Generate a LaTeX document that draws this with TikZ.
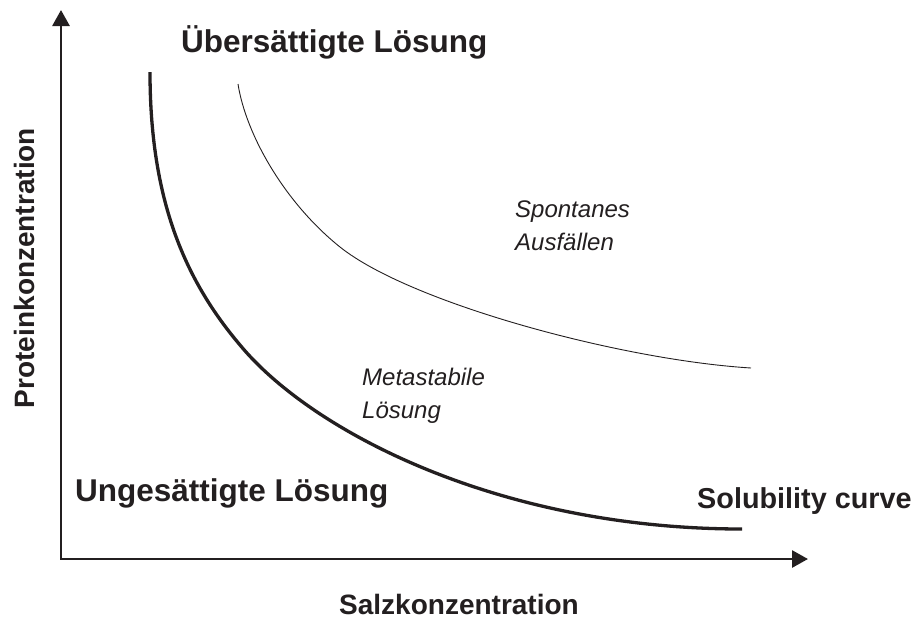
\documentclass[tikz,border=0pt]{standalone}
\usepackage{fontspec}
\setmainfont{Liberation Sans}
\usetikzlibrary{arrows.meta}
\definecolor{ink}{HTML}{231F20}
\tikzset{
  axis/.style={line width=2.8pt, draw=ink, {Triangle[length=16pt,width=17pt]}-{Triangle[length=16pt,width=17pt]}},
  solcurve/.style={line width=3.3pt, draw=ink},
  spontcurve/.style={line width=0.9pt, draw=ink},
  biglabel/.style={inner sep=0pt, text=ink, font=\bfseries\fontsize{31.5}{36}\selectfont},
  axislabel/.style={inner sep=0pt, text=ink, font=\bfseries\fontsize{28}{34}\selectfont},
  regionlabel/.style={inner sep=0pt, text=ink, align=left, font=\itshape\fontsize{24}{33}\selectfont}
}
\begin{document}
\begin{tikzpicture}[x=1pt,y=-1pt]
\useasboundingbox (0,0) rectangle (918,619);
\coordinate (ytop) at (61,10);
\coordinate (origin) at (61,559);
\coordinate (xend) at (808,559);
\draw[axis] (ytop) -- (origin) -- (xend);
% solubility curve
\coordinate (s0) at (150,72);
\coordinate (sk) at (240,345);
\coordinate (s1) at (742,529);
\draw[solcurve] (s0) .. controls (150,200) and (185,280) .. (sk)
                     .. controls (312,432) and (500,529) .. (s1);
% spontaneous precipitation boundary
\coordinate (p0) at (238,84);
\coordinate (pk) at (340,247);
\coordinate (p1) at (751,368);
\draw[spontcurve] (p0) .. controls (246,135) and (285,203) .. (pk)
                       .. controls (410,303) and (621,360) .. (p1);
\node[biglabel, anchor=base west] (super) at (181,52) {Übersättigte Lösung};
\node[biglabel, anchor=base west] (unsat) at (75,501) {Ungesättigte Lösung};
\node[axislabel, anchor=base west, font=\bfseries\fontsize{28.8}{34}\selectfont] (solub) at (697,508) {Solubility curve};
\node[axislabel, anchor=base] (xlab) at (459,614) {Salzkonzentration};
\node[axislabel, anchor=base, rotate=90] (ylab) at (34,268) {Proteinkonzentration};
\node[regionlabel, anchor=north west] (spont) at (515,201) {Spontanes\\Ausfällen};
\node[regionlabel, anchor=north west] (meta) at (362,368) {Metastabile\\Lösung};
\end{tikzpicture}
\end{document}
